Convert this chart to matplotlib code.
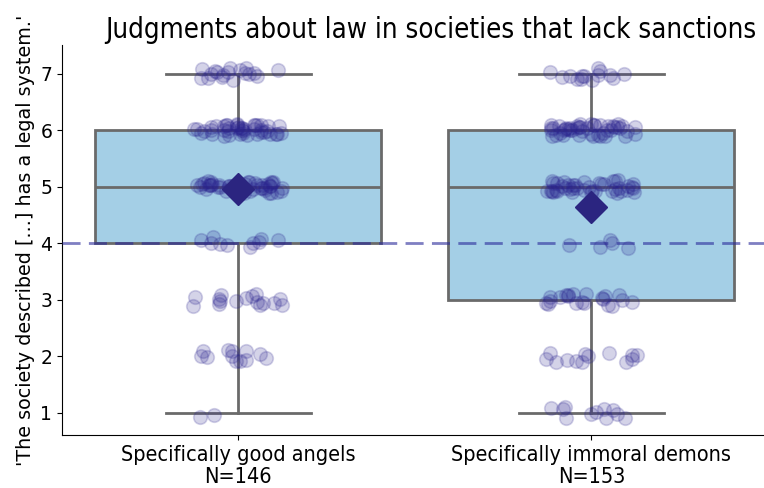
import numpy as np
import matplotlib
matplotlib.use("Agg")
import matplotlib.pyplot as plt

# responses on the 1-7 scale, counts per scale point
scale = [1, 2, 3, 4, 5, 6, 7]
angels_counts = [2, 12, 16, 10, 44, 44, 18]
demons_counts = [11, 13, 21, 5, 42, 47, 14]
groups = ["Specifically good angels", "Specifically immoral demons"]

angels = np.repeat(scale, angels_counts)
demons = np.repeat(scale, demons_counts)
data = [angels, demons]
labels = [f"{g}\nN={len(d)}" for g, d in zip(groups, data)]

fig, ax = plt.subplots(figsize=(7.64, 4.88), dpi=100)

bp = ax.boxplot(data, positions=[0, 1], widths=0.81, whis=[0, 100],
                patch_artist=True, showfliers=False, capwidths=0.41,
                boxprops=dict(facecolor="#a4cfe6", edgecolor="#6a6a6a", linewidth=2),
                medianprops=dict(color="#6a6a6a", linewidth=2),
                whiskerprops=dict(color="#6a6a6a", linewidth=2),
                capprops=dict(color="#6a6a6a", linewidth=2), zorder=2)

ax.axhline(4, color="#2a2a9a", alpha=0.6, linestyle=(0, (6.5, 3)), linewidth=2, zorder=3)

# jittered raw responses
rng = np.random.default_rng(3)
for i, d in enumerate(data):
    xs = i + rng.uniform(-0.13, 0.13, len(d))
    ys = d + rng.uniform(-0.11, 0.11, len(d))
    ax.scatter(xs, ys, s=95, color="#2a238f", alpha=0.2, edgecolors="#2a238f",
               linewidths=1.2, zorder=4)
    ax.plot(i, d.mean(), marker="D", markersize=16, color="#2b2580",
            linestyle="none", zorder=5)

ax.set_xlim(-0.5, 1.5)
ax.set_ylim(0.6, 7.5)
ax.set_yticks(scale)
ax.set_xticks([0, 1])
ax.set_xticklabels(labels, fontsize=15.5, fontstretch="condensed", linespacing=1.12)
ax.tick_params(axis="y", labelsize=13.5)
ax.set_ylabel("'The society described [...] has a legal system.'", fontsize=13.8)
ax.set_title("Judgments about law in societies that lack sanctions", fontsize=19.8,
             fontstretch="condensed", pad=5, x=0.522)
ax.spines["top"].set_visible(False)
ax.spines["right"].set_visible(False)

fig.subplots_adjust(left=0.081, right=1.005, top=0.907, bottom=0.108)
fig.savefig("out.png", dpi=100)
